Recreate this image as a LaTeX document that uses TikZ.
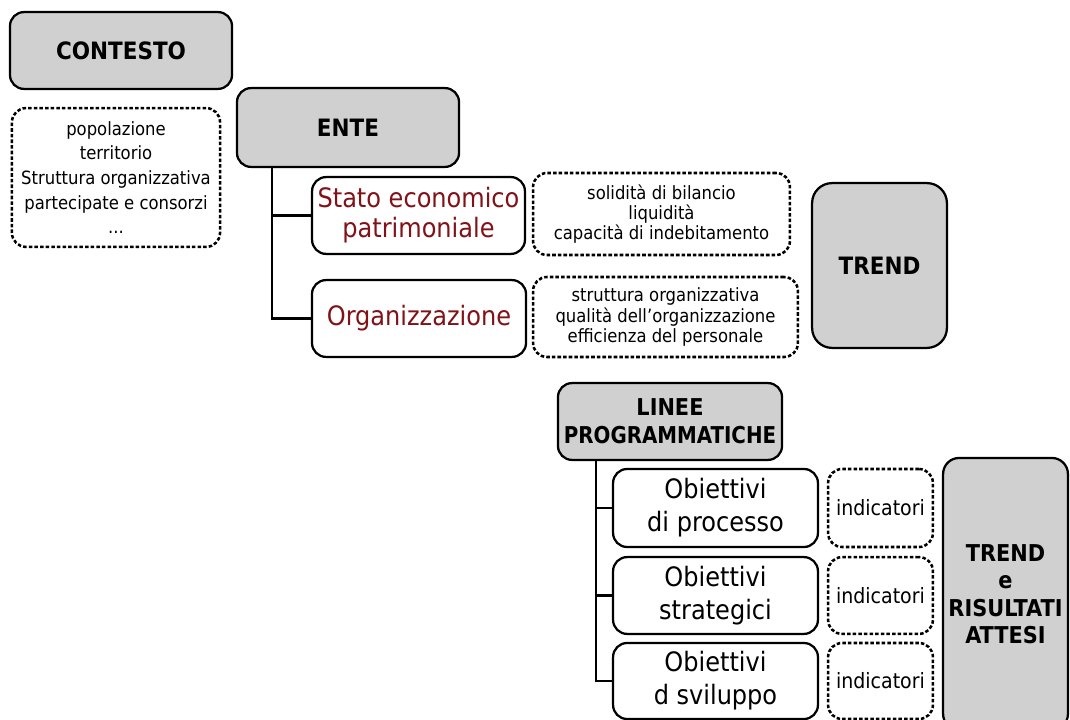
\documentclass[tikz,border=0pt]{standalone}
\usepackage{fontspec}
\setmainfont{DejaVu Sans Condensed}
\usepackage{tikz}
\usetikzlibrary{positioning}

\definecolor{boxgray}{RGB}{208,208,208}
\definecolor{voceRed}{RGB}{128,18,24}

\begin{document}
\begin{tikzpicture}[x=0.025cm, y=-0.025cm,
    titolo/.style={rounded corners=3.5mm, rectangle, align=center, draw, line width=1.6pt, fill=boxgray, font=\bfseries\fontsize{17}{19}\selectfont},
    voce/.style={rounded corners=3.5mm, rectangle, align=center, draw, line width=1.6pt, fill=white},
    elenco/.style={rounded corners=3.5mm, rectangle, align=center, draw, line width=1.8pt, dash pattern=on 2.5pt off 1.5pt},
    ramo/.style={line width=1.5pt}]
    \clip (0,0) rectangle (1070,720);
    \fill [white] (0,0) rectangle (1070,720);

    % contesto
    \node [titolo, minimum width=5.55cm, minimum height=1.92cm] (contesto) at (121,50.5) {CONTESTO};
    \node [elenco, minimum width=5.2cm, minimum height=3.47cm, inner sep=1pt, font=\fontsize{13}{17.5}\selectfont] (contestoinfo) at (116,177.5)
        {popolazione\\territorio\\Struttura organizzativa\\partecipate e consorzi\\...};

    % ente
    \node [titolo, minimum width=5.55cm, minimum height=1.97cm] (ente) at (348,127.5) {ENTE};
    \node [voce, minimum width=5.32cm, minimum height=1.92cm, inner sep=1pt, text=voceRed, font=\fontsize{19}{21.5}\selectfont] (stato) at (418.5,215.5)
        {Stato economico\\patrimoniale};
    \node [voce, minimum width=5.35cm, minimum height=1.92cm, inner sep=1pt, text=voceRed, font=\fontsize{19}{21.5}\selectfont] (organ) at (419,318.5)
        {Organizzazione};
    \node [elenco, minimum width=6.42cm, minimum height=2.05cm, inner sep=1pt, font=\fontsize{13}{14.5}\selectfont] (statoinfo) at (661.5,214)
        {solidità di bilancio\\liquidità\\capacità di indebitamento};
    \node [elenco, minimum width=6.62cm, minimum height=2cm, inner sep=1pt, font=\fontsize{13}{14.5}\selectfont] (organinfo) at (665.5,317)
        {struttura organizzativa\\qualità dell'organizzazione\\efficienza del personale};
    \node [titolo, rounded corners=5mm, minimum width=3.37cm, minimum height=4.12cm] (trend) at (879.5,265.5) {TREND};

    \draw [ramo] ([xshift=0.9cm]ente.south west) |- (stato.west);
    \draw [ramo] ([xshift=0.9cm]ente.south west) |- (organ.west);

    % linee programmatiche
    \node [titolo, minimum width=5.6cm, minimum height=1.92cm, inner sep=1pt, font=\bfseries\fontsize{16.5}{20}\selectfont] (linee) at (670,421.5)
        {LINEE\\\scalebox{0.95}[1]{PROGRAMMATICHE}};
    \node [voce, minimum width=5.12cm, minimum height=1.95cm, inner sep=1pt, font=\fontsize{19}{23.5}\selectfont] (obproc) at (715.5,508) {Obiettivi\\di processo};
    \node [voce, minimum width=5.12cm, minimum height=1.92cm, inner sep=1pt, font=\fontsize{19}{23.5}\selectfont] (obstrat) at (715.5,595.5) {Obiettivi\\strategici};
    \node [voce, minimum width=5.12cm, minimum height=1.9cm, inner sep=1pt, font=\fontsize{19}{23.5}\selectfont] (obsvil) at (715.5,681) {Obiettivi\\d sviluppo};
    \node [elenco, minimum width=2.62cm, minimum height=1.95cm, inner sep=0pt, font=\fontsize{15}{16}\selectfont] (indproc) at (880.5,508) {indicatori};
    \node [elenco, minimum width=2.62cm, minimum height=1.92cm, inner sep=0pt, font=\fontsize{15}{16}\selectfont] (indstrat) at (880.5,595.5) {indicatori};
    \node [elenco, minimum width=2.62cm, minimum height=1.9cm, inner sep=0pt, font=\fontsize{15}{16}\selectfont] (indsvil) at (880.5,681) {indicatori};
    \node [titolo, rounded corners=4mm, minimum width=3.12cm, minimum height=6.8cm, inner sep=1pt, font=\bfseries\fontsize{16.5}{19.5}\selectfont] (risultati) at (1005.5,594)
        {TREND\\e\\RISULTATI\\ATTESI};

    \draw [ramo] ([xshift=0.975cm]linee.south west) |- (obproc.west);
    \draw [ramo] ([xshift=0.975cm]linee.south west) |- (obstrat.west);
    \draw [ramo] ([xshift=0.975cm]linee.south west) |- (obsvil.west);
\end{tikzpicture}
\end{document}
